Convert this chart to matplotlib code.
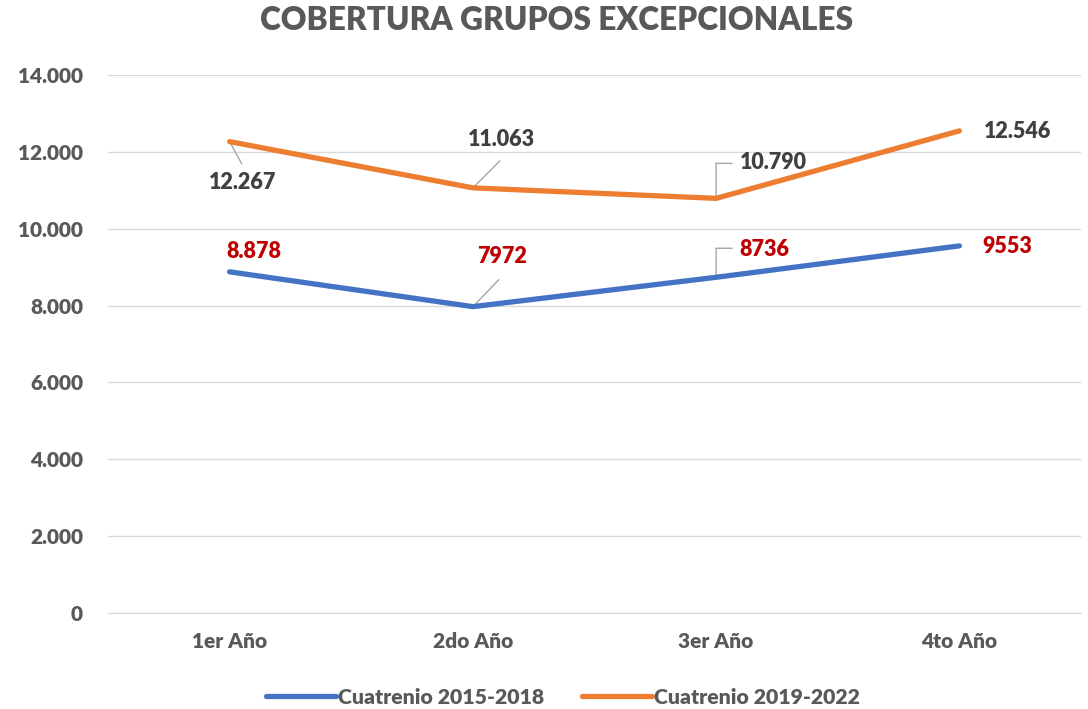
import matplotlib
matplotlib.use("Agg")
import matplotlib.pyplot as plt
from matplotlib.ticker import FuncFormatter, MultipleLocator
from matplotlib.transforms import offset_copy

plt.rcParams['font.family'] = ['Lato', 'DejaVu Sans']

categories = ['1er Año', '2do Año', '3er Año', '4to Año']
s1_name = 'Cuatrenio 2015-2018'
s1_values = [8878, 7972, 8736, 9553]
s1_labels = ['8.878', '7972', '8736', '9553']
s2_name = 'Cuatrenio 2019-2022'
s2_values = [12267, 11063, 10790, 12546]
s2_labels = ['12.267', '11.063', '10.790', '12.546']
title = 'COBERTURA GRUPOS EXCEPCIONALES'

# label offsets (pixels) and leader paths (pixels)
s1_off = [(24, 20), (29, 50), (48, 28), (48, -1)]
s2_off = [(13, -41), (29, 48), (57, 36), (58, -1)]
s1_lead = [None, [(0, 0), (26, 27)], [(0, 0), (0, 29), (16, 29)], None]
s2_lead = [[(0, 0), (12, -22)], [(0, 0), (27, 27)], [(0, 0), (0, 35), (16, 35)], None]

W, H = 1088, 709
fig = plt.figure(figsize=(W / 100, H / 100), dpi=100)
ax = fig.add_axes([108 / W, 1 - 613 / H, (1081 - 108) / W, (613 - 75) / H])

x = list(range(len(categories)))
blue = '#4472C4'
orange = '#ED7D31'
ax.plot(x, s1_values, color=blue, lw=3.8, solid_capstyle='round', solid_joinstyle='round', label=s1_name, zorder=3)
ax.plot(x, s2_values, color=orange, lw=3.8, solid_capstyle='round', solid_joinstyle='round', label=s2_name, zorder=3)

ax.set_xlim(-0.5, 3.5)
ax.set_ylim(0, 14000)
ax.yaxis.set_major_locator(MultipleLocator(2000))
ax.yaxis.set_major_formatter(FuncFormatter(lambda v, p: f"{int(v):,}".replace(',', '.')))
ax.set_xticks(x)
ax.set_xticklabels(categories)
ax.grid(axis='y', color='#D9D9D9', lw=1)
ax.set_axisbelow(True)
for sp in ['top', 'right', 'left']:
    ax.spines[sp].set_visible(False)
ax.spines['bottom'].set_color('#D9D9D9')
ax.tick_params(axis='both', length=0, labelsize=15, colors='#595959')
ax.tick_params(axis='y', pad=18)
ax.tick_params(axis='x', pad=14)
for lab in ax.get_xticklabels() + ax.get_yticklabels():
    lab.set_fontweight('heavy')

def leader(i, v, path):
    for (x0, y0), (x1, y1) in zip(path[:-1], path[1:]):
        tr = offset_copy(ax.transData, fig=fig, x=x0, y=y0, units='dots')
        ax.annotate('', xy=(i, v), xycoords=tr, xytext=(x1 - x0, y1 - y0),
                    textcoords='offset pixels',
                    arrowprops=dict(arrowstyle='-', color='#A6A6A6', lw=1,
                                    shrinkA=0, shrinkB=0), zorder=2)

for vals, labs, offs, leads, col in [
        (s1_values, s1_labels, s1_off, s1_lead, '#C00000'),
        (s2_values, s2_labels, s2_off, s2_lead, '#404040')]:
    for i, (v, l, o, ld) in enumerate(zip(vals, labs, offs, leads)):
        ax.annotate(l, xy=(i, v), xytext=o, textcoords='offset pixels',
                    ha='center', va='center', fontsize=15.5, fontweight='heavy',
                    color=col, zorder=4)
        if ld:
            leader(i, v, ld)

fig.text(557 / W, 1 - 21 / H, title, ha='center', va='center',
         fontsize=22.8, fontweight='heavy', color='#595959')

leg = fig.legend(loc='center', bbox_to_anchor=(563 / W, 1 - 697 / H), ncol=2,
                 frameon=False, fontsize=15.3, handlelength=3.3, columnspacing=1.8,
                 handletextpad=0.1)
for t in leg.get_texts():
    t.set_fontweight('heavy')
    t.set_color('#595959')

fig.savefig('out.png', dpi=100)
